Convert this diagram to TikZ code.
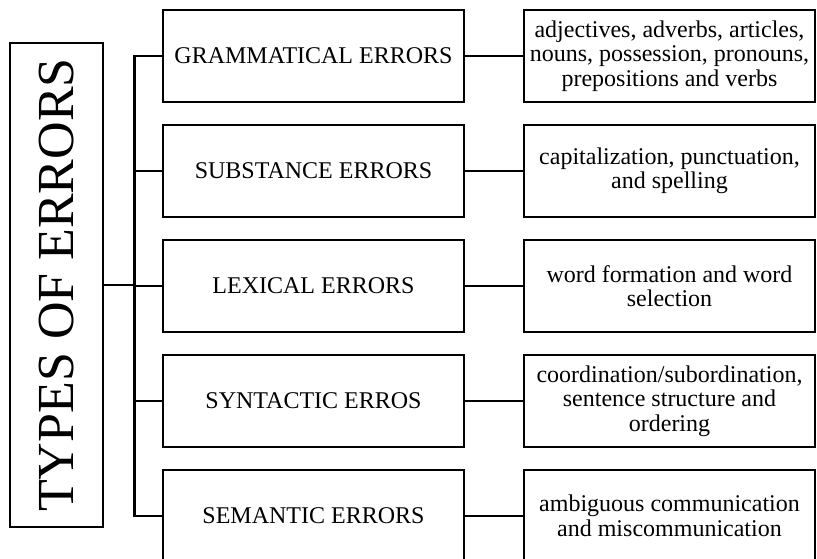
\documentclass[tikz,border=0pt]{standalone}
\usepackage{fontspec}
\setmainfont{Liberation Serif}
\usetikzlibrary{positioning,calc}
\tikzset{
  catbox/.style={draw,line width=2.8pt,minimum width=301pt,minimum height=92pt,font=\fontsize{24}{25}\selectfont,inner sep=0pt},
  detbox/.style={draw,line width=2.8pt,minimum width=291pt,minimum height=92pt,align=center,font=\fontsize{24}{24.5}\selectfont,inner sep=0pt},
  wire/.style={line width=2.8pt}
}

\begin{document}
\begin{tikzpicture}[x=1pt,y=-1pt]
\useasboundingbox (0,0) rectangle (817,558);
\clip (0,0) rectangle (817,558);
\node[draw,line width=2.8pt,minimum width=93pt,minimum height=484pt,inner sep=0pt] (types) at (56.5,285) {};
\node[rotate=90,font=\fontsize{52}{56}\selectfont] at (types.center) {TYPES OF ERRORS};
\foreach \i/\cat/\det in {
  1/GRAMMATICAL ERRORS/{adjectives, adverbs, articles,\\nouns, possession, pronouns,\\prepositions and verbs},
  2/SUBSTANCE ERRORS/{capitalization, punctuation,\\and spelling},
  3/LEXICAL ERRORS/{word formation and word\\selection},
  4/SYNTACTIC ERROS/{coordination/subordination,\\sentence structure and\\ordering},
  5/SEMANTIC ERRORS/{ambiguous communication\\and miscommunication}}{
  \node[catbox] (cat\i) at (313.5,{56+115*(\i-1)}) {\cat};
  \node[detbox] (det\i) at (669.5,{56+115*(\i-1)}) {\det};
  \draw[wire] (cat\i) -- (det\i);
}
\draw[wire] (types.east) -- ++(30,0) coordinate (hub);
\draw[wire] (cat1.west) -| (hub) |- (cat5.west);
\foreach \i in {2,3,4}{\draw[wire] (cat\i.west) -- (cat\i.west -| hub);}
\end{tikzpicture}
\end{document}
